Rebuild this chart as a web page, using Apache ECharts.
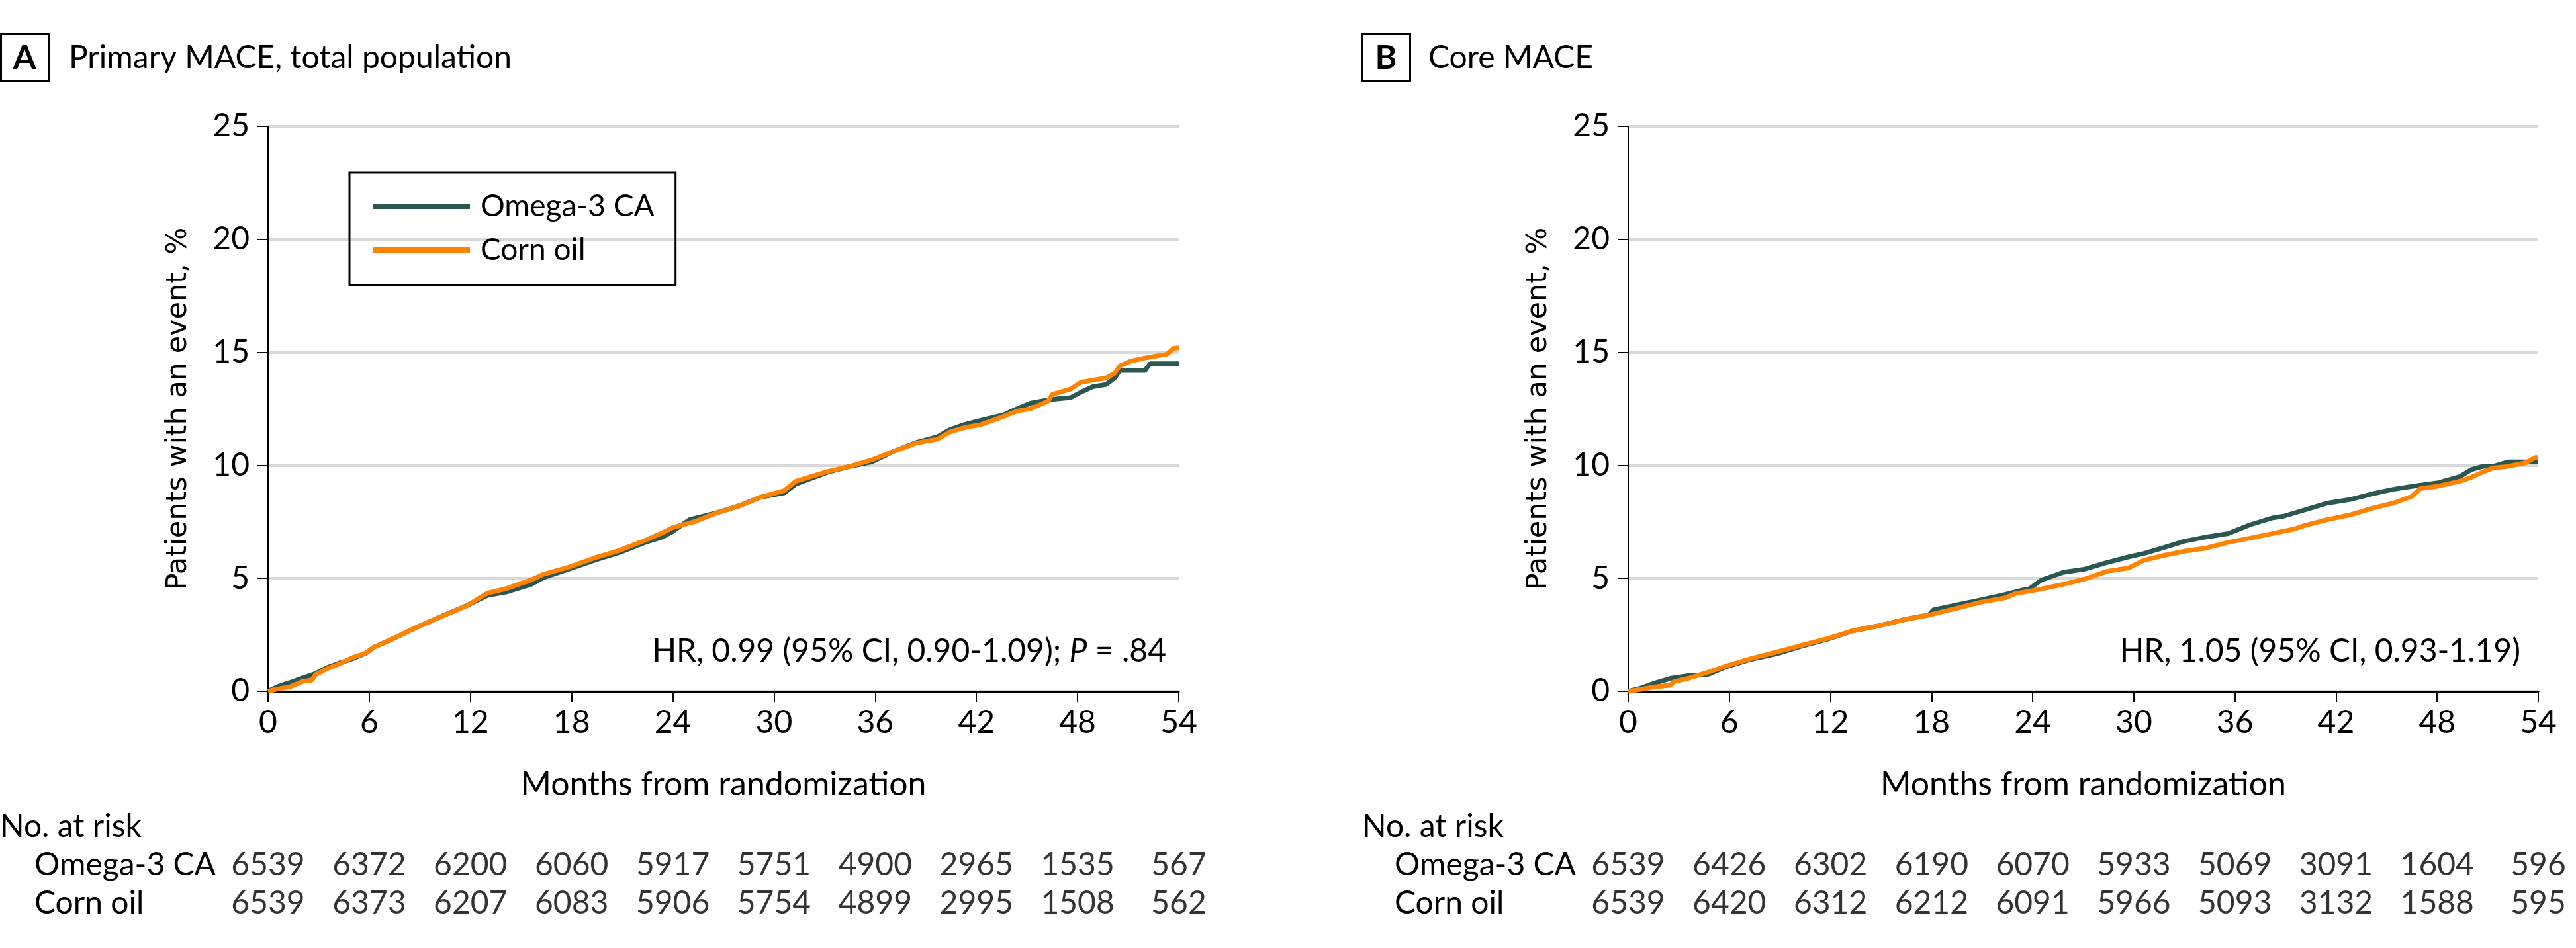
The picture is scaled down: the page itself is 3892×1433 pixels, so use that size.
<!DOCTYPE html>
<html>
<head>
<meta charset="utf-8">
<script src="https://cdn.jsdelivr.net/npm/echarts@6/dist/echarts.min.js"></script>
<style>
html,body{margin:0;padding:0;background:#fff;}
#chart{width:3892px;height:1433px;}
</style>
</head>
<body>
<div id="chart"></div>
<script>
// ---------- DATA ----------
const xTicks = [0, 6, 12, 18, 24, 30, 36, 42, 48, 54];
const groupNames = ['Omega-3 CA', 'Corn oil'];

// Panel A: Primary MACE, total population  [month, % with event]
const aOmega = [[0,0],[0.55,0.2],[1.3,0.39],[2.06,0.59],[2.8,0.78],[3.56,1.07],[4.3,1.27],[5.07,1.46],[5.8,1.69],[6.27,1.95],[7.3,2.29],[8.8,2.83],[10.3,3.32],[11.8,3.8],[13.0,4.24],[14.1,4.39],[15.6,4.73],[16.3,5.02],[17.85,5.41],[19.35,5.8],[20.86,6.15],[22.36,6.59],[23.4,6.83],[24.0,7.08],[25.0,7.6],[26.6,7.9],[27.9,8.2],[29.2,8.59],[30.6,8.78],[31.3,9.17],[33.2,9.7],[34.5,9.95],[35.8,10.15],[37.1,10.62],[38.4,11.0],[39.7,11.27],[40.4,11.57],[41.3,11.81],[42.3,12.0],[43.6,12.23],[44.4,12.5],[45.2,12.75],[46.25,12.9],[47.6,13.0],[48.2,13.24],[48.9,13.48],[49.7,13.58],[50.2,13.87],[50.5,14.2],[52.0,14.2],[52.3,14.5],[54,14.5]];
const aCorn = [[0,0],[0.55,0.1],[1.3,0.2],[2.06,0.44],[2.6,0.49],[2.8,0.73],[3.56,1.02],[4.3,1.24],[5.07,1.51],[5.8,1.69],[6.27,1.95],[7.3,2.29],[8.8,2.83],[10.3,3.32],[11.8,3.8],[13.0,4.34],[14.1,4.54],[15.6,4.93],[16.3,5.17],[17.85,5.5],[19.35,5.9],[20.86,6.24],[22.36,6.68],[23.4,7.02],[24.0,7.25],[25.3,7.51],[26.6,7.9],[27.9,8.2],[29.2,8.59],[30.6,8.88],[31.3,9.3],[33.2,9.73],[34.5,9.95],[35.8,10.24],[37.1,10.62],[38.4,10.98],[39.7,11.16],[40.4,11.47],[41.3,11.67],[42.3,11.81],[43.6,12.16],[44.4,12.4],[45.2,12.5],[46.25,12.84],[46.5,13.14],[47.6,13.38],[48.2,13.68],[48.9,13.77],[49.7,13.87],[50.2,14.07],[50.5,14.4],[51.1,14.6],[52.0,14.75],[53.3,14.92],[53.7,15.18],[54,15.2]];

// Panel B: Core MACE
const bOmega = [[0,0],[0.7,0.13],[1.6,0.37],[2.5,0.57],[3.56,0.69],[4.77,0.75],[5.8,1.08],[7.3,1.42],[8.8,1.66],[10.3,2.0],[11.8,2.3],[13.3,2.67],[14.8,2.89],[16.3,3.16],[17.85,3.38],[18.1,3.6],[19.35,3.8],[20.9,4.04],[22.4,4.29],[23.4,4.48],[23.8,4.53],[24.5,4.92],[25.8,5.26],[27.1,5.41],[28.4,5.7],[29.7,5.95],[30.6,6.1],[31.7,6.34],[33.0,6.64],[34.3,6.83],[35.6,6.98],[36.9,7.37],[38.2,7.67],[38.9,7.75],[40.2,8.04],[41.5,8.33],[42.8,8.48],[44.1,8.73],[45.4,8.94],[46.5,9.07],[48.0,9.22],[49.35,9.5],[50.0,9.8],[50.7,9.95],[51.3,9.95],[52.2,10.15],[54,10.15]];
const bCorn = [[0,0],[0.7,0.08],[1.6,0.2],[2.5,0.27],[2.7,0.42],[3.56,0.57],[4.77,0.85],[5.8,1.12],[7.3,1.45],[8.8,1.74],[10.3,2.04],[11.8,2.33],[13.3,2.67],[14.8,2.89],[16.3,3.16],[17.85,3.38],[19.35,3.65],[20.9,3.94],[22.4,4.14],[23.0,4.33],[23.8,4.43],[24.5,4.53],[25.8,4.73],[27.1,4.97],[28.4,5.31],[29.7,5.46],[30.6,5.8],[31.7,6.0],[33.0,6.2],[34.3,6.34],[35.6,6.59],[36.9,6.78],[38.2,6.98],[39.5,7.18],[40.2,7.35],[41.5,7.6],[42.8,7.8],[44.1,8.09],[45.4,8.33],[46.5,8.63],[47.0,8.97],[48.0,9.07],[49.35,9.3],[50.0,9.46],[50.7,9.7],[51.3,9.88],[52.2,9.95],[53.3,10.12],[53.8,10.34],[54,10.34]];

// Numbers at risk
const riskAOmega = [6539, 6372, 6200, 6060, 5917, 5751, 4900, 2965, 1535, 567];
const riskACorn  = [6539, 6373, 6207, 6083, 5906, 5754, 4899, 2995, 1508, 562];
const riskBOmega = [6539, 6426, 6302, 6190, 6070, 5933, 5069, 3091, 1604, 596];
const riskBCorn  = [6539, 6420, 6312, 6212, 6091, 5966, 5093, 3132, 1588, 595];

const titleA = 'Primary MACE, total population';
const titleB = 'Core MACE';
const yTitle = 'Patients with an event, %';
const xTitle = 'Months from randomization';

// ---------- STYLE ----------
const FONT = 'Lato';
const C_OMEGA = '#2b5753';
const C_CORN = '#ff8200';

const chart = echarts.init(document.getElementById('chart'), null, {renderer: 'canvas', devicePixelRatio: 1});

const plotLefts = [405, 2460];
const plotW = 1376;

function mainX(i) {
  return {
    type: 'value', gridIndex: i, min: 0, max: 54, interval: 6,
    axisLine: {show: true, onZero: false, lineStyle: {color: '#000', width: 3}},
    axisTick: {show: true, length: 16, lineStyle: {color: '#000', width: 2}},
    axisLabel: {fontFamily: FONT, fontSize: 48, color: '#000', margin: 24},
    splitLine: {show: false},
    name: xTitle, nameLocation: 'middle', nameGap: 116,
    nameTextStyle: {fontFamily: FONT, fontSize: 50, color: '#000'}
  };
}
function mainY(i) {
  return {
    type: 'value', gridIndex: i, min: 0, max: 25, interval: 5,
    axisLine: {show: true, lineStyle: {color: '#000', width: 2}},
    axisTick: {show: true, length: 16, lineStyle: {color: '#000', width: 2}},
    axisLabel: {fontFamily: FONT, fontSize: 48, color: '#000', margin: 28},
    splitLine: {show: true, lineStyle: {color: '#d9d9d9', width: 4}},
    name: yTitle, nameLocation: 'middle', nameGap: 114, nameRotate: 90,
    nameTextStyle: {fontFamily: 'DejaVu Sans', fontSize: 43, color: '#000'}
  };
}
function riskX(i) {
  return {type: 'value', gridIndex: i, min: 0, max: 54, show: false};
}
function riskY(i) {
  return {
    type: 'category', gridIndex: i, data: groupNames, inverse: true,
    axisLine: {show: false}, axisTick: {show: false}, splitLine: {show: false},
    axisLabel: {interval: 0, fontFamily: FONT, fontSize: 48, color: '#000', align: 'left', margin: 353}
  };
}
function riskSeries(gi, vals, row) {
  return {
    type: 'scatter', xAxisIndex: gi, yAxisIndex: gi, symbolSize: 0, silent: true,
    data: xTicks.map((m, k) => [m, row, vals[k]]),
    label: {show: true, position: 'inside', formatter: p => String(p.value[2]),
      fontFamily: FONT, fontSize: 48, color: '#000'}
  };
}
function kmSeries(name, gi, data, color) {
  return {
    type: 'line', name: name, xAxisIndex: gi, yAxisIndex: gi, data: data,
    showSymbol: false, smooth: false, lineStyle: {color: color, width: 7}, itemStyle: {color: color},
    silent: true, z: 3
  };
}

const option = {
  backgroundColor: '#fff',
  animation: false,
  grid: [
    {left: plotLefts[0], top: 191, width: plotW, height: 854},
    {left: plotLefts[1], top: 191, width: plotW - 1, height: 854},
    {left: plotLefts[0], top: 1279, width: plotW, height: 116},
    {left: plotLefts[1], top: 1279, width: plotW - 1, height: 116}
  ],
  xAxis: [mainX(0), mainX(1), riskX(2), riskX(3)],
  yAxis: [mainY(0), mainY(1), riskY(2), riskY(3)],
  legend: {
    left: 528, top: 261, orient: 'vertical',
    padding: [28, 32, 30, 35], itemWidth: 147, itemHeight: 8, itemGap: 20, icon: 'rect',
    borderColor: '#000', borderWidth: 3,
    textStyle: {fontFamily: FONT, fontSize: 46, color: '#000', lineHeight: 46, padding: [0, 0, 0, 11]},
    data: groupNames, selectedMode: false
  },
  series: [
    kmSeries('Omega-3 CA', 0, aOmega, C_OMEGA),
    kmSeries('Corn oil', 0, aCorn, C_CORN),
    kmSeries('Omega-3 CA', 1, bOmega, C_OMEGA),
    kmSeries('Corn oil', 1, bCorn, C_CORN),
    riskSeries(2, riskAOmega, 0),
    riskSeries(2, riskACorn, 1),
    riskSeries(3, riskBOmega, 0),
    riskSeries(3, riskBCorn, 1)
  ],
  graphic: [
    {type: 'rect', shape: {x: 1.5, y: 51.5, width: 72, height: 71}, style: {fill: 'none', stroke: '#000', lineWidth: 3}},
    {type: 'text', x: 37, y: 88, style: {text: 'A', fontFamily: FONT, fontWeight: 'bold', fontSize: 50, fill: '#000', align: 'center', verticalAlign: 'middle'}},
    {type: 'text', x: 104, y: 88, style: {text: titleA, fontFamily: FONT, fontSize: 48, fill: '#000', align: 'left', verticalAlign: 'middle'}},
    {type: 'rect', shape: {x: 2058.5, y: 51.5, width: 72, height: 71}, style: {fill: 'none', stroke: '#000', lineWidth: 3}},
    {type: 'text', x: 2094, y: 88, style: {text: 'B', fontFamily: FONT, fontWeight: 'bold', fontSize: 50, fill: '#000', align: 'center', verticalAlign: 'middle'}},
    {type: 'text', x: 2158, y: 88, style: {text: titleB, fontFamily: FONT, fontSize: 48, fill: '#000', align: 'left', verticalAlign: 'middle'}},
    {type: 'text', x: 1762, y: 985, style: {
      text: '{n|HR, 0.99 (95% CI, 0.90-1.09); }{i|P}{n| = .84}',
      rich: {n: {fontFamily: FONT, fontSize: 48, fill: '#000', color: '#000'}, i: {fontFamily: FONT, fontSize: 48, fontStyle: 'italic', fill: '#000', color: '#000'}},
      align: 'right', verticalAlign: 'middle'}},
    {type: 'text', x: 3808, y: 985, style: {text: 'HR, 1.05 (95% CI, 0.93-1.19)', fontFamily: FONT, fontSize: 48, fill: '#000', align: 'right', verticalAlign: 'middle'}},
    {type: 'text', x: 0, y: 1250, style: {text: 'No. at risk', fontFamily: FONT, fontSize: 48, fill: '#000', align: 'left', verticalAlign: 'middle'}},
    {type: 'text', x: 2058, y: 1250, style: {text: 'No. at risk', fontFamily: FONT, fontSize: 48, fill: '#000', align: 'left', verticalAlign: 'middle'}}
  ]
};
chart.setOption(option);
</script>
</body>
</html>
